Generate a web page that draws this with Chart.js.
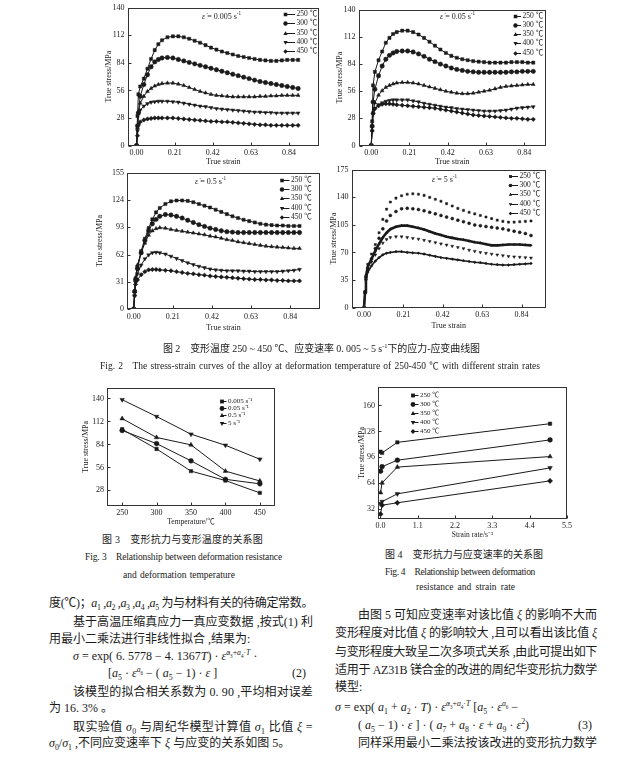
<!DOCTYPE html>
<html>
<head>
<meta charset="utf-8">
<title>Stress-strain curves</title>
<script src="https://cdn.jsdelivr.net/npm/chart.js@4/dist/chart.umd.min.js"></script>
<style>
  body { margin: 0; background: #fff; }
  #page { position: relative; width: 642px; height: 764px; overflow: hidden; background: #fff; color: #1a1a1a;
    font-family: "Liberation Serif", "Noto Sans CJK SC", serif; }
  #page canvas { position: absolute; }
  .t { position: absolute; white-space: nowrap; line-height: 14px; height: 14px; font-size: 12px; }
  .cap { font-size: 10px; line-height: 12px; height: 12px; }
  .en { font-size: 9.5px; line-height: 12px; height: 12px; }
  .note { position: absolute; white-space: nowrap; font-size: 8px; line-height: 10px; }
  sub, sup { font-size: 65%; line-height: 0; }
</style>
</head>
<body>
<div id="page">
  <canvas id="c1"></canvas>
  <canvas id="c2"></canvas>
  <canvas id="c3"></canvas>
  <canvas id="c4"></canvas>
  <canvas id="c5"></canvas>
  <canvas id="c6"></canvas>

  <div class="note" style="left:202px;top:12px"><i>ε̇</i> = 0.005 s<sup>-1</sup></div>
  <div class="note" style="left:440px;top:12px"><i>ε̇</i> = 0.05 s<sup>-1</sup></div>
  <div class="note" style="left:195px;top:177px"><i>ε̇</i> = 0.5 s<sup>-1</sup></div>
  <div class="note" style="left:432px;top:175px"><i>ε̇</i> = 5 s<sup>-1</sup></div>

  <div class="t j cap" style="left:163px;top:343px;width:317px">图 2　变形温度 250 ~ 450 ℃、应变速率 0. 005 ~ 5 s<sup>-1</sup>下的应力-应变曲线图</div>
  <div class="t j en" style="left:100px;top:360px;width:440px">Fig. 2　The stress-strain curves of the alloy at deformation temperature of 250-450 ℃ with different strain rates</div>

  <div class="t j cap" style="left:102px;top:534px;width:161px">图 3　变形抗力与变形温度的关系图</div>
  <div class="t j en" style="left:85px;top:551px;width:197px">Fig. 3　Relationship between deformation resistance</div>
  <div class="t j en" style="left:123px;top:569px;width:112px">and deformation temperature</div>

  <div class="t j cap" style="left:385px;top:549px;width:158px">图 4　变形抗力与应变速率的关系图</div>
  <div class="t j en" style="left:385px;top:566px;width:150px">Fig. 4　Relationship between deformation</div>
  <div class="t j en" style="left:416px;top:581px;width:99px">resistance and strain rate</div>

  <div class="t j" style="left:49px;top:596px;width:264px">度(℃)；<i>a</i><sub>1</sub> ,<i>a</i><sub>2</sub> ,<i>a</i><sub>3</sub> ,<i>a</i><sub>4</sub> ,<i>a</i><sub>5</sub> 为与材料有关的待确定常数。</div>
  <div class="t j" style="left:73px;top:615px;width:240px">基于高温压缩真应力一真应变数据 ,按式(1) 利</div>
  <div class="t" style="left:49px;top:632px">用最小二乘法进行非线性拟合 ,结果为:</div>
  <div class="t" style="left:73px;top:649px"><i>σ</i> = exp( 6. 5778 − 4. 1367<i>T</i>) · <i>ε̇</i><sup><i>a</i><sub>3</sub>+<i>a</i><sub>4</sub>·<i>T</i></sup> ·</div>
  <div class="t" style="left:108px;top:666px">[<i>a</i><sub>5</sub> · <i>ε</i><sup><i>a</i><sub>6</sub></sup> − ( <i>a</i><sub>5</sub> − 1) · <i>ε</i> ]</div>
  <div class="t" style="left:292px;top:666px">(2)</div>
  <div class="t j" style="left:73px;top:685px;width:240px">该模型的拟合相关系数为 0. 90 ,平均相对误差</div>
  <div class="t" style="left:49px;top:701px">为 16. 3% 。</div>
  <div class="t j" style="left:73px;top:720px;width:240px">取实验值 <i>σ</i><sub>0</sub> 与周纪华模型计算值 <i>σ</i><sub>1</sub> 比值 <i>ξ</i> =</div>
  <div class="t" style="left:49px;top:736px"><i>σ</i><sub>0</sub>/<i>σ</i><sub>1</sub> ,不同应变速率下 <i>ξ</i> 与应变的关系如图 5。</div>

  <div class="t j" style="left:358px;top:608px;width:239px">由图 5 可知应变速率对该比值 <i>ξ</i> 的影响不大而</div>
  <div class="t j" style="left:335px;top:626px;width:262px">变形程度对比值 <i>ξ</i> 的影响较大 ,且可以看出该比值 <i>ξ</i></div>
  <div class="t j" style="left:335px;top:645px;width:262px">与变形程度大致呈二次多项式关系 ,由此可提出如下</div>
  <div class="t j" style="left:335px;top:663px;width:262px">适用于 AZ31B 镁合金的改进的周纪华变形抗力数学</div>
  <div class="t" style="left:335px;top:680px">模型:</div>
  <div class="t" style="left:335px;top:700px"><i>σ</i> = exp( <i>a</i><sub>1</sub> + <i>a</i><sub>2</sub> · <i>T</i>) · <i>ε̇</i><sup><i>a</i><sub>3</sub>+<i>a</i><sub>4</sub>·<i>T</i></sup> [<i>a</i><sub>5</sub> · <i>ε</i><sup><i>a</i><sub>6</sub></sup> −</div>
  <div class="t" style="left:358px;top:718px">( <i>a</i><sub>5</sub> − 1) · <i>ε</i> ] · ( <i>a</i><sub>7</sub> + <i>a</i><sub>8</sub> · <i>ε</i> + <i>a</i><sub>9</sub> · <i>ε</i><sup>2</sup>)</div>
  <div class="t" style="left:578px;top:718px">(3)</div>
  <div class="t j" style="left:358px;top:736px;width:239px">同样采用最小二乘法按该改进的变形抗力数学</div>
</div>

<script>
// ---- data ----
var temps = ['250 ℃', '300 ℃', '350 ℃', '400 ℃', '450 ℃'];
var strain = [0, 0.005, 0.01, 0.02, 0.04, 0.06, 0.08, 0.10, 0.12, 0.14, 0.17, 0.20, 0.23, 0.26, 0.29, 0.32, 0.35, 0.38,
  0.41, 0.44, 0.47, 0.50, 0.53, 0.56, 0.59, 0.62, 0.65, 0.68, 0.71, 0.74, 0.77, 0.80, 0.83, 0.86, 0.89];

// strain rate 0.005 s-1
var r0005_250 = [0, 30, 52, 60, 68, 78, 88, 97, 103, 107, 110, 111, 111, 110, 108.5, 106.5, 104.5, 102, 99.5, 97.5, 95.5, 94, 92.5, 91, 90, 89, 88, 87, 86.5, 86, 86, 86.5, 87, 87, 87];
var r0005_300 = [0, 20, 33, 50, 62, 72, 80, 85, 87.5, 89, 89.5, 89, 87.5, 86, 84.5, 83, 81.5, 80, 78.5, 77, 75.5, 74, 72.5, 71, 69.5, 68, 66.5, 65, 64, 63, 62, 61, 60, 59, 58];
var r0005_350 = [0, 18, 34, 43, 50, 55, 58, 60.5, 62, 63, 63.5, 63.5, 62.5, 61, 59, 57, 55, 53.5, 52, 51, 50.5, 50, 49.5, 49.5, 49.5, 49.5, 49.5, 50, 50, 50.5, 50.5, 51, 51, 51, 51];
var r0005_400 = [0, 15, 33, 36, 40, 42.5, 44, 44.5, 45, 45, 45, 44.5, 44, 43, 42, 41, 40, 39.5, 38.5, 37.5, 37, 36.5, 36, 35.5, 35, 34.5, 34, 34, 33.5, 33.5, 33, 33, 33, 33, 33];
var r0005_450 = [0, 10, 21, 24, 26, 27, 27.5, 28, 28, 28, 28, 28, 27.5, 27, 26.5, 26, 25.5, 25, 24.5, 24.5, 24, 24, 23.5, 23, 22.5, 22, 21.5, 21, 21, 20.5, 20.5, 20.5, 20.5, 20.5, 20.5];

// strain rate 0.05 s-1
var r005_250 = [0, 25, 62, 76, 88, 97, 106, 111, 115, 117, 118.5, 118.5, 117, 114.5, 111, 107, 103, 99, 95.5, 92.5, 90.5, 89, 88, 87, 86.5, 86, 85.5, 85.5, 85.5, 85.5, 86, 86, 86, 85.5, 85.5];
var r005_300 = [0, 20, 45, 58, 72, 82, 89, 93, 95.5, 97, 97.5, 97.5, 96.5, 94.5, 92, 89, 86.5, 84, 82, 80, 78.5, 77.5, 76.5, 76, 75.5, 75.5, 75.5, 75.5, 75.5, 75.5, 76, 76, 76.5, 76.5, 76.5];
var r005_350 = [0, 20, 35, 44, 52, 56.5, 60, 62, 63.5, 64.5, 65, 65, 64.5, 63.5, 62, 60.5, 59, 57.5, 56, 55, 54, 53.5, 53.5, 54, 55, 56, 57, 58.5, 60, 61, 61.5, 62, 62.5, 63, 63];
var r005_400 = [0, 15, 32, 38, 42, 44, 45.5, 46.5, 47, 47, 47, 47, 46, 45, 43.5, 42.5, 41.5, 40.5, 39.5, 39, 38, 37.5, 37, 36.5, 36, 35.5, 35.5, 35.5, 36, 36.5, 37.5, 38.5, 39, 39.5, 40];
var r005_450 = [0, 15, 33, 38, 41, 42.5, 43, 43, 42.5, 42, 41.5, 41, 40.5, 40, 39.5, 39, 38.5, 37.5, 36.5, 35.5, 34.5, 33.5, 32.5, 31.5, 31, 30.5, 30, 29.5, 29, 28.5, 28, 28, 27.5, 27, 27];

// strain rate 0.5 s-1
var r05_250 = [0, 20, 35, 48, 66, 80, 92, 102, 110, 115, 119.5, 122.5, 123.5, 123.5, 123, 121.5, 119.5, 117.5, 115.5, 113, 110.5, 108, 105.5, 103.5, 101.5, 100, 98.5, 97, 96, 95.5, 95, 95, 94.5, 94.5, 94.5];
var r05_300 = [0, 20, 33, 46, 64, 78, 89, 97, 102, 105.5, 107.5, 107, 105.5, 103.5, 101, 98.5, 96, 94, 92, 90.5, 89, 88, 87.5, 87, 87, 87, 87, 87, 87, 87, 87, 87, 87, 87, 87];
var r05_350 = [0, 20, 35, 50, 64, 75, 84, 89, 91.5, 92.5, 92, 90.5, 89.5, 88.5, 87.5, 86.5, 85.5, 84.5, 83, 82, 80.5, 79, 78, 76.5, 75.5, 74.5, 73.5, 72.5, 71.5, 71, 70.5, 70, 69.5, 69, 69];
var r05_400 = [0, 15, 30, 40, 50, 57, 61.5, 64, 64.5, 64, 62.5, 60, 57.5, 55, 52.5, 50.5, 48.5, 47, 45.5, 44.5, 44, 43.5, 43.5, 43.5, 43, 43, 42.5, 42.5, 42.5, 42.5, 42.5, 43, 43.5, 44, 45];
var r05_450 = [0, 15, 28, 33, 39, 42.5, 44.5, 45, 45, 44.5, 44, 43.5, 42.5, 41.5, 40.5, 40, 39, 38.5, 37.5, 37, 36.5, 36, 35.5, 35, 34.5, 34, 33.5, 33.5, 33, 33, 32.5, 32.5, 32, 32, 32];

// strain rate 5 s-1
var r5_250 = [0, 20, 40, 55, 68, 80, 95, 112, 125, 134, 139, 142, 144, 144.5, 144, 142.5, 140, 137.5, 135, 132, 129, 126, 123.5, 121, 119, 117, 115, 113, 111, 109.5, 108.5, 108.5, 109, 109.5, 110];
var r5_300 = [0, 20, 38, 50, 62, 75, 88, 100, 110, 117, 122, 125.5, 126, 125.5, 124.5, 123, 121, 119, 117, 115, 113, 111, 109, 107, 105, 104, 103, 102, 101, 100, 98.5, 97, 95.5, 94, 91.5];
var r5_350 = [0, 20, 40, 52, 62, 72, 81, 89, 95, 99.5, 102.5, 104, 104, 102.5, 101, 99, 96.5, 94, 92, 90, 88.5, 87, 86, 84.5, 83, 82, 80.5, 79, 79, 79.5, 80, 80, 80, 79.5, 79];
var r5_400 = [0, 18, 35, 48, 58, 67, 75, 82, 86.5, 89, 90, 90, 89, 88, 87, 85.5, 84, 82.5, 81, 79.5, 78, 76.5, 75, 73, 71.5, 70, 69, 68, 67, 66, 65, 64.5, 64, 63.5, 63];
var r5_450 = [0, 18, 35, 45, 53, 59, 63.5, 67, 69, 70, 71, 71, 70, 69.5, 69, 68, 66.5, 65, 63.5, 62.5, 61.5, 60.5, 59.5, 58.5, 57.5, 57, 56, 55, 54.5, 54, 54, 54.5, 55, 55.5, 56];

// Fig. 3: peak stress vs temperature
var tempAxis = [250, 300, 350, 400, 450];
var rateNames = ['0.005 s⁻¹', '0.05 s⁻¹', '0.5 s⁻¹', '5 s⁻¹'];
var t_0005 = [102.5, 78.5, 51.5, 40, 25];
var t_005 = [101, 85, 64, 41.5, 36];
var t_05 = [115.5, 92.5, 83.5, 51.5, 39.5];
var t_5 = [138.5, 118, 96.5, 83, 66];

// Fig. 4: peak stress vs strain rate
var rates = [0.005, 0.05, 0.5, 5];
var f_250 = [103, 101.5, 114.5, 137.5];
var f_300 = [79, 84.5, 92.5, 117.5];
var f_350 = [52.5, 64.5, 84, 97];
var f_400 = [39, 41.5, 51, 83];
var f_450 = [26, 37, 40, 67];

// tick labels
var strainTicks = [0, 0.21, 0.42, 0.63, 0.84];
var ticks140 = [0, 28, 56, 84, 112, 140];
var ticks155 = [0, 31, 62, 93, 124, 155];
var ticks175 = [0, 35, 70, 105, 140, 175];
var tempTicks = [250, 300, 350, 400, 450];
var stress3Ticks = [28, 56, 84, 112, 140];
var rateTicks = [0, 1.1, 2.2, 3.3, 4.4, 5.5];
var stress4Ticks = [32, 64, 96, 128, 160];

// ---- text lines: stretch/squeeze each to its column width ----
document.querySelectorAll('.j').forEach(function (el) {
  var target = parseFloat(el.style.width);
  el.style.width = 'auto';
  var natural = el.getBoundingClientRect().width;
  var text = el.textContent;
  var diff = target - natural;
  var spaces = (text.match(/ /g) || []).length;
  if (el.classList.contains('en') && diff > 0 && spaces) {
    el.style.wordSpacing = (diff / spaces) + 'px';
  } else {
    el.style.letterSpacing = (diff / text.length) + 'px';
  }
});

// ---- drawing ----
var INK = '#1a1a1a';
var FONT = '"Liberation Serif", "Noto Sans CJK SC", serif';
Chart.defaults.font.family = FONT;
Chart.defaults.color = INK;

var MARKS = [['rect', 0], ['circle', 0], ['triangle', 0], ['triangle', 180], ['rectRot', 0]];

function pts(xs, ys) {
  return xs.map(function (x, i) { return { x: x, y: ys[i] }; });
}

function series(label, xs, ys, k, opt) {
  opt = opt || {};
  var w = opt.line === undefined ? 1 : opt.line;
  return {
    label: label, data: pts(xs, ys),
    showLine: w > 0, borderWidth: w, borderColor: INK, backgroundColor: INK,
    pointStyle: MARKS[k][0], pointRotation: MARKS[k][1], pointRadius: opt.r || 2.2,
    pointBorderWidth: 0.5, pointBackgroundColor: INK, pointBorderColor: INK
  };
}

function mark(ctx, style, rot, x, y, r) {
  ctx.beginPath();
  if (style === 'circle') ctx.arc(x, y, r, 0, Math.PI * 2);
  else if (style === 'rect') ctx.rect(x - r * 0.8, y - r * 0.8, r * 1.6, r * 1.6);
  else if (style === 'rectRot') { ctx.moveTo(x, y - r); ctx.lineTo(x + r, y); ctx.lineTo(x, y + r); ctx.lineTo(x - r, y); ctx.closePath(); }
  else {
    var d = rot ? -1 : 1;
    ctx.moveTo(x, y - d * r); ctx.lineTo(x + r * 0.95, y + d * r * 0.65); ctx.lineTo(x - r * 0.95, y + d * r * 0.65); ctx.closePath();
  }
  ctx.fill();
}

// box around the plot area with short inward ticks
var framePlugin = {
  id: 'frame',
  afterDraw: function (chart) {
    var a = chart.chartArea, ctx = chart.ctx;
    var L = Math.round(a.left) + 0.5, T = Math.round(a.top) + 0.5, R = Math.round(a.right) - 0.5, B = Math.round(a.bottom) - 0.5;
    ctx.save();
    ctx.strokeStyle = '#333'; ctx.lineWidth = 1;
    ctx.strokeRect(L, T, R - L, B - T);
    ctx.beginPath();
    chart.scales.x.ticks.forEach(function (t) {
      var p = Math.round(chart.scales.x.getPixelForValue(t.value)) + 0.5;
      ctx.moveTo(p, B); ctx.lineTo(p, B - 3);
    });
    chart.scales.y.ticks.forEach(function (t) {
      var p = Math.round(chart.scales.y.getPixelForValue(t.value)) + 0.5;
      ctx.moveTo(L, p); ctx.lineTo(L + 3, p);
    });
    ctx.stroke();
    ctx.restore();
  }
};

// legend drawn inside the plot: marker, short line, label
var legendPlugin = {
  id: 'boxLegend',
  afterDraw: function (chart) {
    var o = chart.options.plugins.boxLegend, ctx = chart.ctx;
    if (!o) return;
    ctx.save();
    ctx.font = o.size + 'px ' + FONT;
    ctx.textBaseline = 'middle';
    ctx.fillStyle = INK; ctx.strokeStyle = INK; ctx.lineWidth = 1;
    chart.data.datasets.forEach(function (ds, i) {
      var y = Math.round(o.y + i * o.dy) + 0.5;
      ctx.beginPath(); ctx.moveTo(o.x, y); ctx.lineTo(o.tx - 1.5, y); ctx.stroke();
      mark(ctx, ds.pointStyle, ds.pointRotation, o.x, y, Math.max(1.8, Math.min(ds.pointRadius, 2.4)));
      ctx.fillText(ds.label, o.tx, y);
    });
    ctx.restore();
  }
};

function axis(a, size, horiz) {
  return {
    type: 'linear', min: a.min, max: a.max,
    afterBuildTicks: function (s) { s.ticks = a.ticks.map(function (v) { return { value: v }; }); },
    afterFit: function (s) { if (horiz) s.height = size; else s.width = size; },
    grid: { display: false, drawTicks: false }, border: { display: false },
    ticks: { padding: a.pad || 3, font: { size: a.fs || 8 }, color: INK, maxRotation: 0, autoSkip: false,
      callback: function (v) { return Number(v).toFixed(a.dec || 0); } },
    title: { display: true, text: a.title, font: { size: a.tfs || 8 }, padding: 0, color: INK }
  };
}

function plot(id, frame, cfg) {
  var padT = 6, padR = cfg.padR || 6;
  var left = frame[0] - cfg.yw, top = frame[1] - padT;
  var cv = document.getElementById(id);
  cv.width = frame[2] - frame[0] + cfg.yw + padR;
  cv.height = frame[3] - frame[1] + padT + cfg.xh;
  cv.style.left = left + 'px';
  cv.style.top = top + 'px';
  var lg = cfg.legend;
  return new Chart(cv, {
    type: 'scatter',
    data: { datasets: cfg.datasets },
    options: {
      responsive: false, animation: false, events: [],
      layout: { padding: { left: 0, top: padT, right: padR, bottom: 0 } },
      plugins: {
        legend: { display: false }, tooltip: { enabled: false },
        boxLegend: { x: lg.x - left, tx: lg.tx - left, y: lg.y - top, dy: lg.dy, size: lg.size || 7.5 }
      },
      scales: { x: axis(cfg.x, cfg.xh, true), y: axis(cfg.y, cfg.yw, false) }
    },
    plugins: [framePlugin, legendPlugin]
  });
}

function curveSet(list, opts) {
  return list.map(function (vals, k) {
    return series(temps[k], strain, vals, k, opts ? opts[k] : null);
  });
}

var strainX = function (mn, mx) { return { min: mn, max: mx, ticks: strainTicks, dec: 2, title: 'True strain' }; };

plot('c1', [127, 6, 319, 146], {
  yw: 23.5, xh: 21.5,
  x: strainX(-0.05, 1.005),
  y: { min: 0, max: 140, ticks: ticks140, title: 'True stress/MPa' },
  legend: { x: 285, tx: 296, y: 14, dy: 9.25 },
  datasets: curveSet([r0005_250, r0005_300, r0005_350, r0005_400, r0005_450])
});

plot('c2', [358, 8, 546, 146], {
  yw: 23.5, xh: 21.5,
  x: strainX(-0.07, 0.96),
  y: { min: 0, max: 140, ticks: ticks140, title: 'True stress/MPa' },
  legend: { x: 515, tx: 522, y: 15.7, dy: 9.25 },
  datasets: curveSet([r005_250, r005_300, r005_350, r005_400, r005_450])
});

plot('c3', [127, 171, 320, 309], {
  yw: 32, xh: 24,
  x: strainX(-0.036, 1.0),
  y: { min: 0, max: 155, ticks: ticks155, title: 'True stress/MPa' },
  legend: { x: 282, tx: 291, y: 180, dy: 9.2 },
  datasets: curveSet([r05_250, r05_300, r05_350, r05_400, r05_450])
});

plot('c4', [351, 168, 546, 308], {
  yw: 22.5, xh: 23.5,
  x: strainX(-0.067, 0.97),
  y: { min: 0, max: 175, ticks: ticks175, title: 'True stress/MPa' },
  legend: { x: 510, tx: 519, y: 175.7, dy: 9.4 },
  datasets: curveSet([r5_250, r5_300, r5_350, r5_400, r5_450],
    [{ line: 0, r: 1.5 }, { line: 0, r: 1.5 }, { line: 2.6, r: 1.4 }, { line: 0, r: 1.7 }, { line: 1.6, r: 1.4 }])
});

plot('c5', [107, 386, 275, 506], {
  yw: 26, xh: 21,
  x: { min: 228, max: 472, ticks: tempTicks, title: 'Temperature/℃', pad: 2, tfs: 7.5 },
  y: { min: 9, max: 153, ticks: stress3Ticks, title: 'True stress/MPa' },
  legend: { x: 222, tx: 228, y: 400.7, dy: 7.3, size: 7 },
  datasets: [
    series(rateNames[0], tempAxis, t_0005, 0, { r: 2.4 }),
    series(rateNames[1], tempAxis, t_005, 1, { r: 2.4 }),
    series(rateNames[2], tempAxis, t_05, 2, { r: 2.6 }),
    series(rateNames[3], tempAxis, t_5, 3, { r: 2.6 })
  ]
});

plot('c6', [378, 385, 567, 519], {
  yw: 21, xh: 21, padR: 10,
  x: { min: -0.07, max: 5.5, ticks: rateTicks, dec: 1, title: 'Strain rate/s⁻¹', pad: 2, tfs: 7.5 },
  y: { min: 20, max: 183, ticks: stress4Ticks, title: 'True stress/MPa' },
  legend: { x: 413, tx: 420, y: 395, dy: 8.9, size: 7 },
  datasets: [
    series(temps[0], rates, f_250, 0, { r: 2.4 }),
    series(temps[1], rates, f_300, 1, { r: 2.4 }),
    series(temps[2], rates, f_350, 2, { r: 2.6 }),
    series(temps[3], rates, f_400, 3, { r: 2.6 }),
    series(temps[4], rates, f_450, 4, { r: 2.6 })
  ]
});
</script>
</body>
</html>
